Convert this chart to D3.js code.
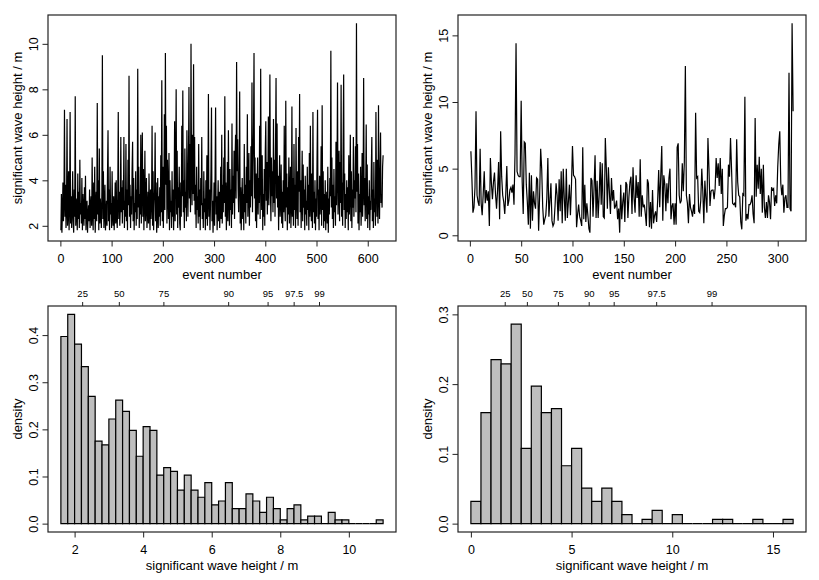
<!DOCTYPE html>
<html>
<head>
<meta charset="utf-8">
<script src="https://cdnjs.cloudflare.com/ajax/libs/d3/7.8.5/d3.min.js"></script>
<style>
body { margin: 0; background: #fff; }
svg text { font-family: "Liberation Sans", Arial, Helvetica, sans-serif; fill: #000; }
</style>
</head>
<body>
<div id="chart"></div>
<script>
// significant wave height, site A (630 events)
var hsA = [
  1.8,3.4,1.7,2.6,3.9,2.2,3.1,7.1,2.4,3.8,1.9,2.8,6.7,2.0,2.5,4.4,1.8,2.9,7.0,2.1,
  3.3,1.9,2.7,4.4,2.2,1.7,3.6,2.4,7.7,2.0,3.2,2.6,1.8,4.3,2.3,3.5,1.9,4.9,2.5,3.0,
  2.1,4.1,1.8,3.4,2.6,2.0,3.7,2.3,4.2,1.8,2.7,3.1,1.7,2.4,2.9,2.2,3.6,1.9,2.8,3.3,
  2.0,5.0,2.6,1.8,3.9,2.3,4.6,1.7,2.9,3.5,2.2,7.4,2.5,4.0,1.8,5.4,2.1,3.2,2.6,1.9,
  3.5,9.5,2.3,4.4,1.9,2.7,3.8,1.8,2.4,3.1,2.0,4.3,6.2,2.2,3.6,1.8,4.6,2.5,3.0,1.9,
  4.4,2.4,2.0,3.3,1.8,2.6,3.9,2.1,4.0,2.4,1.9,3.2,7.0,2.3,3.5,2.0,2.8,5.9,2.6,3.7,
  2.1,4.0,2.7,5.9,1.9,3.1,2.4,5.6,2.2,3.6,1.8,4.9,2.9,8.6,2.4,3.8,1.9,3.3,2.5,4.5,
  5.7,2.2,4.1,1.8,3.0,2.6,4.4,2.0,3.6,2.3,8.9,2.8,4.6,1.9,3.4,2.5,6.0,2.1,3.7,6.1,
  2.4,4.5,1.8,3.2,5.3,2.2,2.9,4.1,1.9,2.6,3.5,2.1,4.3,2.7,1.8,3.6,2.3,3.0,6.4,2.0,
  4.4,1.8,2.9,3.6,6.1,2.2,3.9,1.7,2.5,4.1,1.9,3.3,2.4,3.7,2.0,5.1,2.6,8.4,2.2,4.6,
  1.9,3.4,6.9,2.7,9.6,3.8,6.4,2.1,4.9,3.5,2.3,5.2,1.8,4.0,2.6,3.1,1.9,4.4,2.4,3.6,
  1.8,3.0,6.6,2.2,4.3,8.0,2.5,5.3,1.9,3.7,2.8,4.6,2.1,1.8,3.9,2.4,6.4,3.3,7.95,2.6,
  4.0,1.9,5.4,2.8,3.5,2.2,6.2,3.9,2.4,4.7,8.1,3.2,5.6,2.6,10.0,4.3,2.9,6.0,3.4,9.1,
  3.1,5.9,2.5,3.8,1.9,4.6,2.7,3.3,2.1,5.6,2.4,3.6,1.8,4.1,2.9,5.9,2.3,3.0,1.9,4.4,
  2.6,3.2,1.8,4.0,2.3,5.1,2.0,3.4,7.8,2.4,3.6,1.8,2.9,4.5,7.2,2.2,3.1,1.7,2.6,3.9,
  2.0,4.2,7.2,2.5,3.3,1.8,2.9,4.0,2.2,3.5,1.9,2.7,4.6,2.3,6.0,2.1,3.8,2.6,5.0,3.0,
  7.7,2.4,3.9,1.8,2.8,4.8,2.2,6.2,3.4,2.0,4.5,2.7,3.6,1.9,6.5,2.5,4.2,3.0,5.3,2.3,
  4.9,6.0,3.2,9.2,4.4,5.8,3.6,2.6,4.3,7.9,2.1,3.7,1.8,2.9,4.1,2.3,3.4,1.8,5.6,2.6,
  3.8,2.1,4.6,3.0,6.9,2.4,3.5,5.2,2.0,4.0,2.8,5.5,3.3,8.3,2.6,4.7,6.1,9.6,3.2,5.0,
  2.2,4.3,1.9,3.6,5.0,2.5,4.1,3.0,6.4,2.3,8.9,4.2,2.7,5.1,1.8,3.4,2.4,4.5,2.0,5.3,
  6.6,3.1,4.8,2.5,3.9,6.8,2.9,5.4,8.65,3.6,2.2,5.0,3.3,4.4,2.6,6.7,3.0,4.9,2.4,5.5,
  8.5,3.2,6.5,2.8,4.2,1.8,3.6,5.1,2.4,3.0,4.7,2.1,3.5,1.9,4.0,2.6,6.4,3.1,2.2,7.5,
  2.8,4.3,1.8,3.7,2.5,5.0,2.1,3.3,4.6,1.9,3.0,7.25,2.4,4.1,2.0,5.6,2.7,3.8,1.9,6.3,
  3.2,2.3,4.4,2.0,5.9,3.5,7.8,2.6,4.0,1.9,3.3,5.3,2.2,4.7,2.8,3.6,1.8,4.2,2.5,3.1,
  2.0,4.6,2.7,3.8,1.8,5.2,2.4,6.4,3.0,2.2,4.3,1.9,7.0,2.6,3.5,2.1,4.0,1.8,3.2,2.4,
  4.9,7.1,2.3,3.6,1.8,4.2,2.5,3.1,5.5,2.0,7.3,2.7,4.4,1.9,3.4,2.2,4.0,1.8,2.9,3.5,
  2.1,4.6,1.7,3.2,2.5,4.1,3.3,9.7,2.8,5.0,2.3,3.8,1.9,4.5,2.6,3.3,2.0,5.7,2.9,4.2,
  8.3,2.5,3.6,5.3,2.2,4.8,3.0,8.2,2.4,3.9,2.0,5.6,8.65,2.7,4.3,1.9,3.4,2.3,4.0,2.6,
  3.7,1.8,5.1,2.5,3.3,6.0,2.2,4.4,1.9,3.6,2.8,5.9,2.4,4.0,3.2,5.5,2.6,10.9,3.5,5.6,
  2.1,4.3,1.8,3.4,2.6,4.6,2.0,3.0,5.2,2.4,3.8,8.5,2.9,4.1,2.2,3.5,6.45,2.3,4.7,1.9,
  3.3,2.5,4.0,1.8,3.1,2.7,4.5,5.9,2.2,3.6,1.9,4.8,2.6,3.2,2.0,7.0,3.7,2.4,4.9,2.1,
  7.3,3.4,2.3,4.4,6.1,3.0,3.4,2.8,4.6,5.1
];

// significant wave height, site B (315 events)
var hsB = [
  6.3,4.2,1.7,2.1,3.6,9.3,3.0,2.5,2.2,6.5, 2.4,1.5,3.1,4.8,2.4,3.4,2.6,3.3,0.7,5.8,
  3.9,2.7,4.0,4.7,3.1,2.0,3.4,5.5,1.2,7.8, 4.4,3.0,2.5,1.6,3.1,5.2,2.2,2.6,3.4,3.6,
  3.2,3.8,2.3,6.1,14.4,4.8,4.5,4.4,4.4,10.1, 4.0,1.6,7.0,6.9,3.8,2.5,0.8,4.7,0.5,4.5,
  1.1,3.3,2.4,2.0,4.3,4.2,0.35,3.0,6.5,5.0, 2.1,0.8,1.2,1.5,2.8,5.8,1.4,2.6,3.9,1.1,
  0.7,0.9,2.2,3.9,3.0,1.1,4.2,1.8,4.8,0.9, 5.0,2.8,1.1,5.0,1.3,2.5,3.8,1.5,3.7,6.7,
  4.5,4.4,4.2,0.6,1.6,2.3,1.4,1.1,0.7,6.6, 1.2,3.8,1.0,2.4,1.5,0.5,0.2,4.3,4.1,1.4,
  3.5,6.0,1.3,4.1,1.3,3.0,5.5,2.3,5.4,1.4, 1.3,7.3,5.0,2.0,5.1,3.2,1.6,4.3,2.6,3.4,
  2.0,2.2,2.6,1.2,2.0,0.2,3.8,1.2,2.5,3.2, 1.0,4.0,3.8,1.3,2.9,4.0,4.4,1.6,5.1,2.8,
  1.7,4.5,2.8,4.0,1.4,5.7,1.4,3.0,2.1,2.3, 1.6,0.7,4.2,3.9,0.6,2.5,0.5,3.4,0.9,1.5,
  1.8,1.0,2.6,4.9,2.1,4.4,6.7,1.1,4.5,3.8, 1.8,3.9,2.4,4.3,5.0,1.2,2.2,2.4,0.8,2.4,
  0.8,6.6,6.9,3.0,2.4,2.6,5.4,3.3,5.5,12.7, 3.0,2.4,0.9,3.1,2.1,1.8,1.4,2.3,1.6,9.2,
  4.3,4.4,1.8,1.7,2.6,5.0,3.3,0.9,4.1,2.8, 1.7,7.3,5.0,2.2,3.3,3.4,3.4,2.7,3.5,5.8,
  4.3,5.4,3.7,5.8,3.1,5.0,0.7,1.5,2.0,2.0, 2.1,5.3,4.4,7.3,5.0,2.4,2.3,2.4,2.1,7.2,
  4.0,3.0,2.9,1.0,0.45,3.1,3.0,10.4,1.1,1.6, 1.2,2.3,2.3,2.5,3.0,1.6,0.9,8.8,2.9,5.3,
  3.5,5.9,3.1,5.0,1.7,5.3,2.1,1.3,2.5,1.3, 3.0,2.5,1.2,3.6,3.4,3.5,2.2,3.0,2.4,5.1,
  6.8,7.8,3.9,3.0,3.8,1.7,2.8,3.0,2.1,2.1, 12.2,2.0,1.8,15.9,9.3
];

// histogram densities
var densA = [0.397,0.444,0.381,0.333,0.270,0.175,0.167,0.222,0.262,0.238,
  0.198,0.143,0.206,0.198,0.103,0.119,0.111,0.071,0.103,0.071,
  0.056,0.087,0.040,0.048,0.087,0.032,0.032,0.063,0.048,0.024,
  0.056,0.032,0.008,0.032,0.040,0.008,0.016,0.016,0,0.024,
  0.008,0.008,0,0,0,0,0.008];
var binStartA = 1.6, binWidthA = 0.2;

var densB = [0.032,0.159,0.235,0.229,0.286,0.108,0.197,0.159,0.165,0.083,
  0.108,0.051,0.032,0.051,0.032,0.013,0,0.006,0.019,0,
  0.013,0,0,0,0.006,0.006,0,0,0.006,0,0,0.006];
var binStartB = 0, binWidthB = 0.5, ymaxB = 0.3;

// percentiles (top axes)
var pctLabels = ["25","50","75","90","95","97.5","99"];
var pctA = [2.22,3.29,4.59,6.48,7.63,8.39,9.13];
var pctB = [1.68,2.78,4.32,5.85,7.09,9.20,11.95];

var ticksTLx = [0,100,200,300,400,500,600], ticksTLy = [2,4,6,8,10];
var ticksTRx = [0,50,100,150,200,250,300], ticksTRy = [0,5,10,15];
var ticksBLx = [2,4,6,8,10], ticksBLy = [0,0.1,0.2,0.3,0.4];
var ticksBRx = [0,5,10,15], ticksBRy = [0,0.1,0.2,0.3];

var W = 819, H = 580;
var svg = d3.select('#chart').append('svg')
  .attr('width', W).attr('height', H);

// R style 4% axis extension
function pad(ext) {
  var d = (ext[1] - ext[0]) * 0.04;
  return [ext[0] - d, ext[1] + d];
}

function panel(box, xdom, ydom) {
  var x = d3.scaleLinear().domain(xdom).range([box.x0, box.x1]);
  var y = d3.scaleLinear().domain(ydom).range([box.y1, box.y0]);
  return {box: box, x: x, y: y};
}

function axes(p, xt, yt, xfmt, yfmt, xlab, ylab) {
  var b = p.box;
  var gx = svg.append('g').attr('transform', 'translate(0,' + b.y1 + ')')
    .call(d3.axisBottom(p.x).tickValues(xt).tickSizeInner(5.5).tickSizeOuter(0).tickFormat(xfmt));
  gx.select('.domain').remove();
  gx.selectAll('line').attr('stroke', '#222');
  gx.selectAll('text').attr('y', 22).attr('dy', 0)
    .style('font-size', '12.5px');

  var gy = svg.append('g').attr('transform', 'translate(' + b.x0 + ',0)')
    .call(d3.axisLeft(p.y).tickValues(yt).tickSizeInner(5.5).tickSizeOuter(0).tickFormat(yfmt));
  gy.select('.domain').remove();
  gy.selectAll('line').attr('stroke', '#222');
  gy.selectAll('text')
    .attr('transform', 'rotate(-90)')
    .attr('x', 0).attr('y', -10).attr('dy', 0)
    .style('text-anchor', 'middle')
    .style('font-size', '12.5px');

  svg.append('text')
    .attr('x', (b.x0 + b.x1) / 2).attr('y', b.y1 + 38)
    .attr('text-anchor', 'middle').style('font-size', '13px')
    .text(xlab);
  svg.append('text')
    .attr('transform', 'translate(' + (b.x0 - 26) + ',' + ((b.y0 + b.y1) / 2) + ') rotate(-90)')
    .attr('text-anchor', 'middle').style('font-size', '13px')
    .text(ylab);
}

function frame(p) {
  var b = p.box;
  svg.append('rect')
    .attr('x', b.x0).attr('y', b.y0)
    .attr('width', b.x1 - b.x0).attr('height', b.y1 - b.y0)
    .attr('fill', 'none').attr('stroke', '#222').attr('stroke-width', 1.2);
}

function series(p, data) {
  var line = d3.line()
    .x(function(d, i) { return p.x(i + 1); })
    .y(function(d) { return p.y(d); });
  svg.append('path')
    .datum(data)
    .attr('d', line)
    .attr('fill', 'none')
    .attr('stroke', '#000')
    .attr('stroke-width', 1.2)
    .attr('stroke-linejoin', 'miter');
}

function hist(p, dens, start, width) {
  svg.append('g').selectAll('path')
    .data(dens)
    .enter()
    .append('path')
    .attr('d', function(d, i) {
      var a = p.x(start + i * width), c = p.x(start + (i + 1) * width);
      var y0 = p.y(0), y1 = p.y(d);
      return 'M' + a + ',' + y0 + 'V' + y1 + 'H' + c + 'V' + y0 + 'Z';
    })
    .attr('fill', '#bebebe')
    .attr('stroke', '#000')
    .attr('stroke-width', 1.2);
}

function topAxis(p, vals) {
  var g = svg.append('g').attr('transform', 'translate(0,' + p.box.y0 + ')')
    .call(d3.axisTop(p.x).tickValues(vals).tickSizeInner(4).tickSizeOuter(0)
      .tickFormat(function(d, i) { return pctLabels[i]; }));
  g.select('.domain').remove();
  g.selectAll('line').attr('stroke', '#222');
  g.selectAll('text').attr('y', -9.5).attr('dy', 0).style('font-size', '9.5px');
}

var ylab = 'significant wave height / m';
var fmt1 = d3.format('.1f');
var fmtInt = function(d) { return d; };

// top left
var boxTL = {x0: 48, x1: 396, y0: 15, y1: 241};
var pTL = panel(boxTL, pad([1, hsA.length]), pad(d3.extent(hsA)));
series(pTL, hsA);
frame(pTL);
axes(pTL, ticksTLx, ticksTLy, fmtInt, fmtInt, 'event number', ylab);

// top right
var boxTR = {x0: 458, x1: 806, y0: 15, y1: 241};
var pTR = panel(boxTR, pad([1, hsB.length]), pad(d3.extent(hsB)));
series(pTR, hsB);
frame(pTR);
axes(pTR, ticksTRx, ticksTRy, fmtInt, fmtInt, 'event number', ylab);

// bottom left
var boxBL = {x0: 48, x1: 396, y0: 306, y1: 532};
var pBL = panel(boxBL, pad([binStartA, binStartA + densA.length * binWidthA]), pad([0, d3.max(densA)]));
hist(pBL, densA, binStartA, binWidthA);
frame(pBL);
axes(pBL, ticksBLx, ticksBLy, fmtInt, fmt1, ylab, 'density');
topAxis(pBL, pctA);

// bottom right
var boxBR = {x0: 458, x1: 806, y0: 306, y1: 532};
var pBR = panel(boxBR, pad([binStartB, binStartB + densB.length * binWidthB]), pad([0, ymaxB]));
hist(pBR, densB, binStartB, binWidthB);
frame(pBR);
axes(pBR, ticksBRx, ticksBRy, fmtInt, fmt1, ylab, 'density');
topAxis(pBR, pctB);
</script>
</body>
</html>
